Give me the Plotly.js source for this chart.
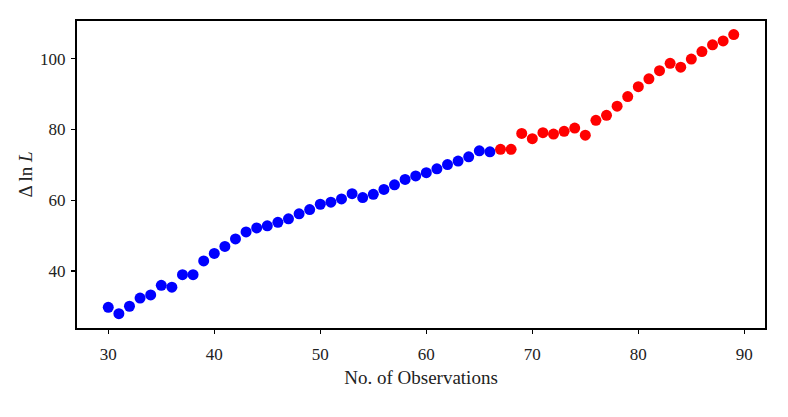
<!DOCTYPE html>
<html>
<head>
<meta charset="utf-8">
<script src="https://cdn.plot.ly/plotly-3.0.1.min.js"></script>
<style>
  html, body { margin: 0; padding: 0; background: #fff; }
  #chart { width: 788px; height: 417px; }
</style>
</head>
<body>
<div id="chart"></div>
<script>
// observations 30..66 (blue), 67..89 (red)
var blueX = [30, 31, 32, 33, 34, 35, 36, 37, 38, 39, 40, 41, 42, 43, 44, 45, 46, 47, 48,
             49, 50, 51, 52, 53, 54, 55, 56, 57, 58, 59, 60, 61, 62, 63, 64, 65, 66];
var blueY = [29.8, 28.0, 30.1, 32.4, 33.3, 36.0, 35.5, 39.0, 39.0, 42.9, 45.0, 47.0, 49.1,
             51.1, 52.2, 52.8, 53.8, 54.8, 56.2, 57.4, 58.9, 59.5, 60.4, 61.9, 60.8, 61.7,
             63.1, 64.4, 65.9, 66.9, 67.8, 68.9, 70.1, 71.1, 72.3, 74.0, 73.7];

var redX = [67, 68, 69, 70, 71, 72, 73, 74, 75, 76, 77, 78, 79, 80, 81, 82, 83, 84, 85,
            86, 87, 88, 89];
var redY = [74.4, 74.4, 78.9, 77.4, 79.1, 78.7, 79.5, 80.4, 78.4, 82.6, 84.0, 86.6, 89.3,
            92.1, 94.3, 96.6, 98.7, 97.6, 99.9, 102.0, 103.9, 105.0, 106.8];

var xTicks = [30, 40, 50, 60, 70, 80, 90];
var yTicks = [40, 60, 80, 100];

var serif = "Liberation Serif, DejaVu Serif, serif";

var traces = [
  {
    x: blueX, y: blueY, mode: 'markers', type: 'scatter',
    marker: {color: '#0000ff', size: 11}
  },
  {
    x: redX, y: redY, mode: 'markers', type: 'scatter',
    marker: {color: '#ff0000', size: 11}
  }
];

var axisCommon = {
  showline: true, mirror: true, linecolor: '#000', linewidth: 2,
  ticks: 'outside', ticklen: 4, tickwidth: 1.5, tickcolor: '#000',
  showgrid: false, zeroline: false,
  tickfont: {family: serif, size: 17, color: '#222'}
};

var layout = {
  width: 788, height: 417,
  margin: {l: 77, r: 23, t: 21, b: 89},
  paper_bgcolor: '#fff', plot_bgcolor: '#fff',
  showlegend: false,
  xaxis: Object.assign({}, axisCommon, {
    range: [27.05, 91.95],
    tickvals: xTicks,
    ticklabelstandoff: 6,
    title: {text: 'No. of Observations', font: {family: serif, size: 19, color: '#222'}, standoff: 7}
  }),
  yaxis: Object.assign({}, axisCommon, {
    range: [23.96, 110.64],
    tickvals: yTicks,
    ticklabelstandoff: 2,
    title: {text: 'Δ ln <i>L</i>', font: {family: serif, size: 19, color: '#222'}, standoff: 2}
  })
};

Plotly.newPlot('chart', traces, layout, {displayModeBar: false, staticPlot: true});
</script>
</body>
</html>
